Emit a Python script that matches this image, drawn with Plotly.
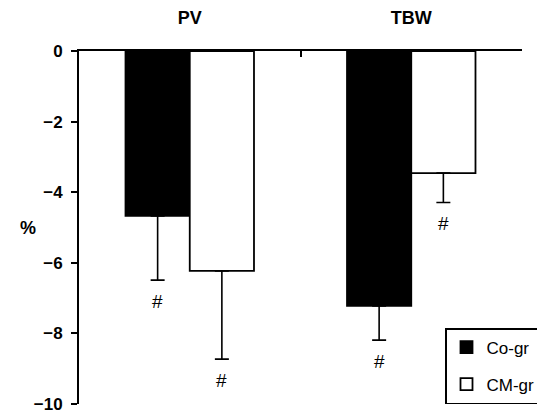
import plotly.graph_objects as go

categories = ["PV", "TBW"]
series_names = ["Co-gr", "CM-gr"]
co_gr = [-4.67, -7.22]
cm_gr = [-6.23, -3.46]
co_gr_err = [1.82, 0.97]
cm_gr_err = [2.50, 0.83]
y_ticks = [0, -2, -4, -6, -8, -10]
sig_mark = "#"

FONT = "Liberation Sans, Arial, sans-serif"
fig = go.Figure()

styles = [("black", co_gr, co_gr_err), ("white", cm_gr, cm_gr_err)]
for name, (col, vals, errs) in zip(series_names, styles):
    fig.add_trace(go.Bar(
        x=categories, y=vals, name=name, legendgroup=name,
        marker=dict(color=col, line=dict(color="black", width=1.8)),
        error_y=dict(type="data", symmetric=False, array=[0] * len(vals),
                     arrayminus=errs, color="black", thickness=1.6, width=7),
    ))

# significance markers
for i, (vals, errs) in enumerate([(co_gr, co_gr_err), (cm_gr, cm_gr_err)]):
    shift = -32 if i == 0 else 32
    for c, v, e in zip(categories, vals, errs):
        fig.add_annotation(x=c, y=v - e, xref="x", yref="y", text=sig_mark,
                           showarrow=False, xshift=shift, yshift=-21,
                           font=dict(family=FONT, size=19, color="black"))

fig.add_annotation(x=(18 - 79) / 443, xref="paper", y=0.5, yref="paper", text="%",
                   showarrow=False,
                   font=dict(family=FONT, size=18, color="black", weight="bold"))

fig.update_layout(
    width=537, height=416,
    margin=dict(l=79, r=15, t=51, b=12, autoexpand=False),
    paper_bgcolor="white", plot_bgcolor="white",
    barmode="group", bargap=0.42, bargroupgap=0,
    showlegend=True,
    legend=dict(x=(445 - 79) / 443, y=(404 - 328) / 353, xanchor="left", yanchor="top",
                bordercolor="black", borderwidth=1.5, bgcolor="white",
                font=dict(family=FONT, size=17, color="black"),
                tracegroupgap=12, traceorder="grouped"),
    xaxis=dict(type="category", side="top", tickson="boundaries", ticks="inside",
               ticklen=6, tickwidth=1.8, tickcolor="black",
               showline=True, linecolor="black", linewidth=1.8, showgrid=False,
               ticklabelstandoff=18,
               tickfont=dict(family=FONT, size=18, color="black", weight="bold")),
    yaxis=dict(range=[-10, 0], tickvals=y_ticks, ticks="outside", ticklen=6,
               tickwidth=1.8, tickcolor="black", showline=True, linecolor="black",
               linewidth=1.8, showgrid=False, zeroline=False, ticklabelstandoff=5,
               tickfont=dict(family=FONT, size=17, color="black", weight="bold")),
)

fig.write_html("out.html")
